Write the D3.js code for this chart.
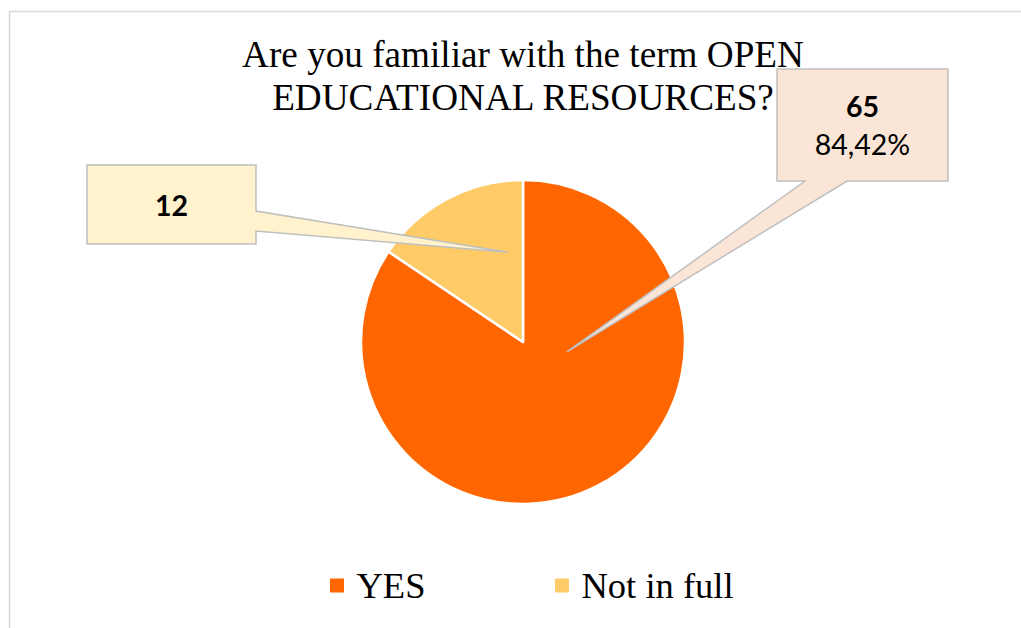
<!DOCTYPE html>
<html>
<head>
<meta charset="utf-8">
<script src="https://cdn.jsdelivr.net/npm/d3@7"></script>
<style>
  html, body { margin: 0; padding: 0; background: #fff; }
  svg { display: block; }
</style>
</head>
<body>
<svg id="chart" width="1021" height="628"></svg>
<script>
// Survey answers
const categories = ["YES", "Not in full"];
const values = [65, 12];
const colors = ["#FF6600", "#FFCB66"];
const titleLines = ["Are you familiar with the term OPEN", "EDUCATIONAL RESOURCES?"];

const W = 1021, H = 628;
const svg = d3.select("#chart");

// chart area frame
svg.append("rect")
  .attr("x", 9.5).attr("y", 11.5)
  .attr("width", W + 20).attr("height", H + 20)
  .attr("fill", "#fff").attr("stroke", "#D9D9D9").attr("stroke-width", 1.5);

// title
const title = svg.append("text")
  .attr("text-anchor", "middle")
  .attr("font-family", "'Liberation Serif', 'Times New Roman', serif")
  .attr("font-size", 37.2)
  .attr("fill", "#000");
titleLines.forEach((t, i) => {
  title.append("tspan").attr("x", 523).attr("y", 67 + i * 42.5).text(t);
});

// pie
const cx = 523, cy = 342, R = 162;
const total = d3.sum(values);
const pie = d3.pie().sort(null).value(d => d)(values);
const arc = d3.arc().innerRadius(0).outerRadius(R);
const g = svg.append("g").attr("transform", `translate(${cx},${cy})`);
g.selectAll("path.slice").data(pie).join("path")
  .attr("class", "slice")
  .attr("d", arc)
  .attr("fill", (d, i) => colors[i])
  .attr("stroke", "#fff")
  .attr("stroke-width", 2.5)
  .attr("stroke-linejoin", "round");

// callouts: box + pointer wedge aimed into the slice
const pct = v => (v / total * 100).toFixed(2).replace(".", ",") + "%";
function polar(angle, r) {
  return [cx + r * Math.sin(angle), cy - r * Math.cos(angle)];
}
const calloutSpecs = [
  { // YES
    box: [777, 69, 948, 181], side: "bottom", base: [805, 847],
    tip: polar(102.8 * Math.PI / 180, 45),
    fill: "#FBE5D6",
    lines: [{ t: String(values[0]), bold: true, y: 117 }, { t: pct(values[0]), bold: false, y: 155 }]
  },
  { // Not in full
    box: [87, 165, 256, 244], side: "right", base: [211, 231],
    tip: polar(-9.5 * Math.PI / 180, 91),
    fill: "#FFF2CC",
    lines: [{ t: String(values[1]), bold: true, y: 216 }]
  }
];
calloutSpecs.forEach(c => {
  const [x0, y0, x1, y1] = c.box;
  const p = d3.path();
  p.moveTo(x0, y0);
  p.lineTo(x1, y0);
  if (c.side === "right") {
    p.lineTo(x1, c.base[0]);
    p.lineTo(c.tip[0], c.tip[1]);
    p.lineTo(x1, c.base[1]);
    p.lineTo(x1, y1);
    p.lineTo(x0, y1);
  } else {
    p.lineTo(x1, y1);
    p.lineTo(c.base[1], y1);
    p.lineTo(c.tip[0], c.tip[1]);
    p.lineTo(c.base[0], y1);
    p.lineTo(x0, y1);
  }
  p.closePath();
  svg.append("path").attr("d", p.toString())
    .attr("fill", c.fill).attr("stroke", "#BFBFBF").attr("stroke-width", 1.5)
    .attr("stroke-linejoin", "miter");
  c.lines.forEach(l => {
    svg.append("text")
      .attr("x", (x0 + x1) / 2).attr("y", l.y)
      .attr("text-anchor", "middle")
      .attr("font-family", "Lato, 'Open Sans', sans-serif")
      .attr("font-size", 28.5)
      .attr("font-weight", l.bold ? "bold" : "normal")
      .attr("fill", "#000")
      .text(l.t);
  });
});

// legend
const legendX = [330, 555];
const legend = svg.append("g");
categories.forEach((c, i) => {
  legend.append("rect")
    .attr("x", legendX[i]).attr("y", 578.5)
    .attr("width", 14).attr("height", 14)
    .attr("fill", colors[i]);
  legend.append("text")
    .attr("x", legendX[i] + 26.5).attr("y", 597.5)
    .attr("font-family", "'Liberation Serif', 'Times New Roman', serif")
    .attr("font-size", 36.5)
    .attr("fill", "#000")
    .text(c);
});
</script>
</body>
</html>
